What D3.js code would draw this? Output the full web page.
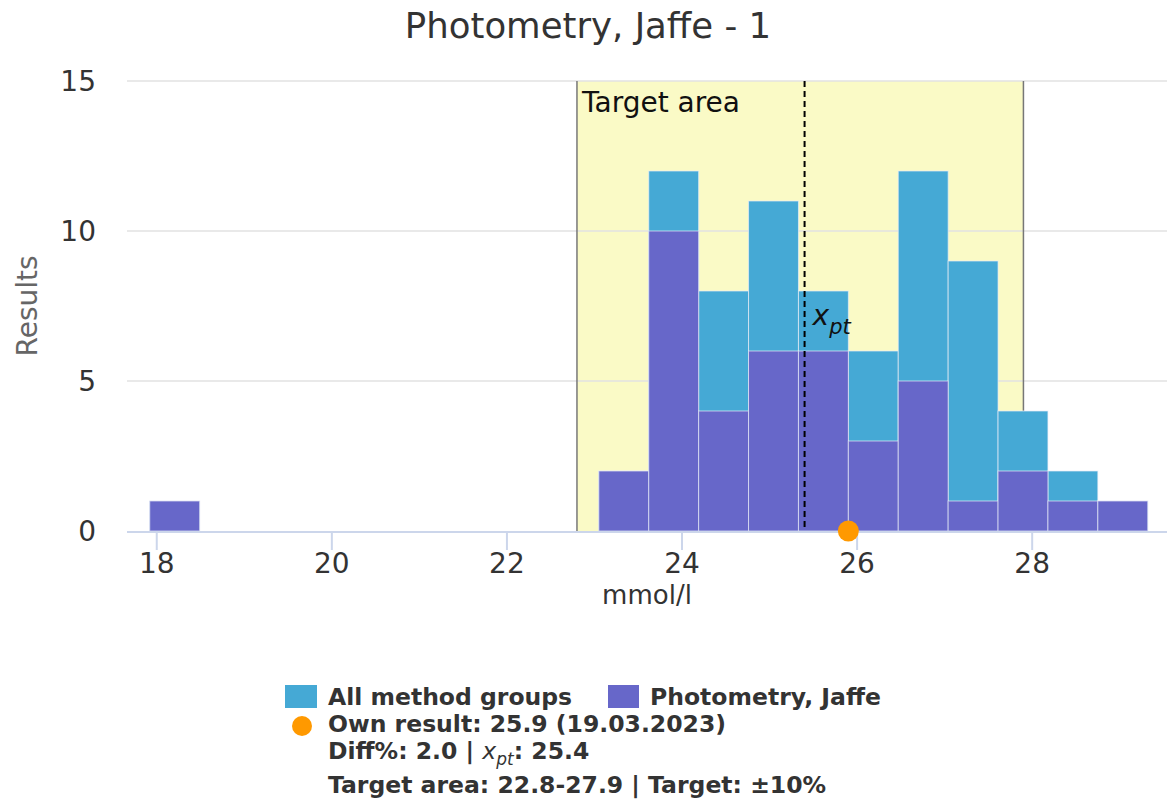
<!DOCTYPE html>
<html>
<head>
<meta charset="utf-8">
<script src="https://cdn.jsdelivr.net/npm/d3@7"></script>
<style>
  body {margin:0; background:#fff;}
  svg {font-family:"DejaVu Sans", sans-serif; display:block;}
</style>
</head>
<body>
<svg width="1167" height="807"></svg>
<script>
// histogram bins (lower edge, mmol/l) and counts
var binLow = [17.92, 23.05, 23.62, 24.19, 24.76, 25.33, 25.90, 26.47, 27.04, 27.61, 28.18, 28.75];
var binWidth = 0.57;
var allGroups = [1, 2, 12, 8, 11, 8, 6, 12, 9, 4, 2, 1];
var jaffe = [1, 2, 10, 4, 6, 6, 3, 5, 1, 2, 1, 1];
var xTicks = [18, 20, 22, 24, 26, 28];
var yTicks = [0, 5, 10, 15];
var targetArea = [22.8, 27.9];
var xpt = 25.4;
var ownResult = 25.9;

var svg = d3.select("svg");

var x = d3.scaleLinear().domain([17.66, 29.54]).range([127, 1167]);
var y = d3.scaleLinear().domain([0, 15]).range([531, 81]);

svg.append("text")
  .attr("x", 588).attr("y", 38)
  .attr("text-anchor", "middle")
  .attr("font-size", 35.5).attr("fill", "#333")
  .text("Photometry, Jaffe - 1");

// target band
svg.append("rect")
  .attr("x", x(targetArea[0])).attr("y", y(15))
  .attr("width", x(targetArea[1]) - x(targetArea[0]))
  .attr("height", y(0) - y(15))
  .attr("fill", "#fafac6");

// grid
svg.append("g").selectAll("line")
  .data(yTicks.filter(function(d) { return d > 0; }))
  .enter().append("line")
    .attr("x1", 127).attr("x2", 1167)
    .attr("y1", function(d) { return y(d); })
    .attr("y2", function(d) { return y(d); })
    .attr("stroke", "#e2e2e2").attr("stroke-width", 1.5);

svg.append("g").selectAll("line")
  .data(targetArea)
  .enter().append("line")
    .attr("x1", function(d) { return x(d); })
    .attr("x2", function(d) { return x(d); })
    .attr("y1", y(15)).attr("y2", y(0))
    .attr("stroke", "#777").attr("stroke-width", 1.5);

// bars: all groups behind, jaffe in front
function bars(vals, color) {
  svg.append("g").selectAll("rect")
    .data(vals)
    .enter().append("rect")
      .attr("x", function(d, i) { return x(binLow[i]); })
      .attr("width", function(d, i) { return x(binLow[i] + binWidth) - x(binLow[i]); })
      .attr("y", function(d) { return y(d); })
      .attr("height", function(d) { return y(0) - y(d); })
      .attr("fill", color)
      .attr("stroke", "#e8ecf8").attr("stroke-opacity", 0.7).attr("stroke-width", 1);
}
bars(allGroups, "#45a9d5");
bars(jaffe, "#6767c9");

// x axis
svg.append("line")
  .attr("x1", 127).attr("x2", 1167).attr("y1", y(0) + 1).attr("y2", y(0) + 1)
  .attr("stroke", "#ccd6eb").attr("stroke-width", 2);

var xt = svg.append("g").selectAll("g").data(xTicks).enter().append("g")
  .attr("transform", function(d) { return "translate(" + x(d) + ",0)"; });
xt.append("line").attr("y1", y(0) + 1).attr("y2", y(0) + 19)
  .attr("stroke", "#ccd6eb").attr("stroke-width", 2);
xt.append("text").attr("y", 573).attr("text-anchor", "middle")
  .attr("font-size", 28).attr("fill", "#333")
  .text(function(d) { return d; });

svg.append("text")
  .attr("x", 647).attr("y", 604).attr("text-anchor", "middle")
  .attr("font-size", 26).attr("fill", "#333")
  .text("mmol/l");

// y axis labels
svg.append("g").selectAll("text").data(yTicks).enter().append("text")
  .attr("x", 96).attr("y", function(d) { return y(d) + 10; })
  .attr("text-anchor", "end")
  .attr("font-size", 28).attr("fill", "#333")
  .text(function(d) { return d; });

svg.append("text")
  .attr("transform", "translate(37," + (y(7.5)) + ") rotate(-90)")
  .attr("text-anchor", "middle")
  .attr("font-size", 28).attr("fill", "#666")
  .text("Results");

// target area label
svg.append("text")
  .attr("x", 582).attr("y", 112)
  .attr("font-size", 28).attr("fill", "#111")
  .text("Target area");

// xpt line
svg.append("line")
  .attr("x1", x(xpt)).attr("x2", x(xpt))
  .attr("y1", y(15)).attr("y2", y(0))
  .attr("stroke", "#000").attr("stroke-width", 2)
  .attr("stroke-dasharray", "6,4");

var xl = svg.append("text")
  .attr("x", x(xpt) + 8).attr("y", 325)
  .attr("font-size", 28).attr("fill", "#111").attr("font-style", "italic");
xl.append("tspan").text("x");
xl.append("tspan").attr("dy", 9).attr("font-size", 21).text("pt");

// own result
svg.append("circle")
  .attr("cx", x(ownResult)).attr("cy", y(0))
  .attr("r", 10.5).attr("fill", "#ff9900");

// legend
var lg = svg.append("g").attr("font-size", 23.5).attr("font-weight", "bold").attr("fill", "#333");
lg.append("rect").attr("x", 285).attr("y", 685).attr("width", 32).attr("height", 23).attr("fill", "#45a9d5");
lg.append("text").attr("x", 328).attr("y", 705).text("All method groups");
lg.append("rect").attr("x", 608).attr("y", 685).attr("width", 31).attr("height", 23).attr("fill", "#6767c9");
lg.append("text").attr("x", 650).attr("y", 705).text("Photometry, Jaffe");
lg.append("circle").attr("cx", 302).attr("cy", 726).attr("r", 10).attr("fill", "#ff9900");
lg.append("text").attr("x", 328).attr("y", 732).text("Own result: " + ownResult + " (19.03.2023)");
var l3 = lg.append("text").attr("x", 328).attr("y", 759);
l3.append("tspan").text("Diff%: 2.0 | ");
l3.append("tspan").attr("font-style", "italic").attr("font-weight", "normal").text("x");
l3.append("tspan").attr("font-style", "italic").attr("font-weight", "normal").attr("font-size", 17).attr("dy", 6).text("pt");
l3.append("tspan").attr("dy", -6).text(": " + xpt);
lg.append("text").attr("x", 328).attr("y", 793)
  .text("Target area: " + targetArea[0] + "-" + targetArea[1] + " | Target: ±10%");
</script>
</body>
</html>
